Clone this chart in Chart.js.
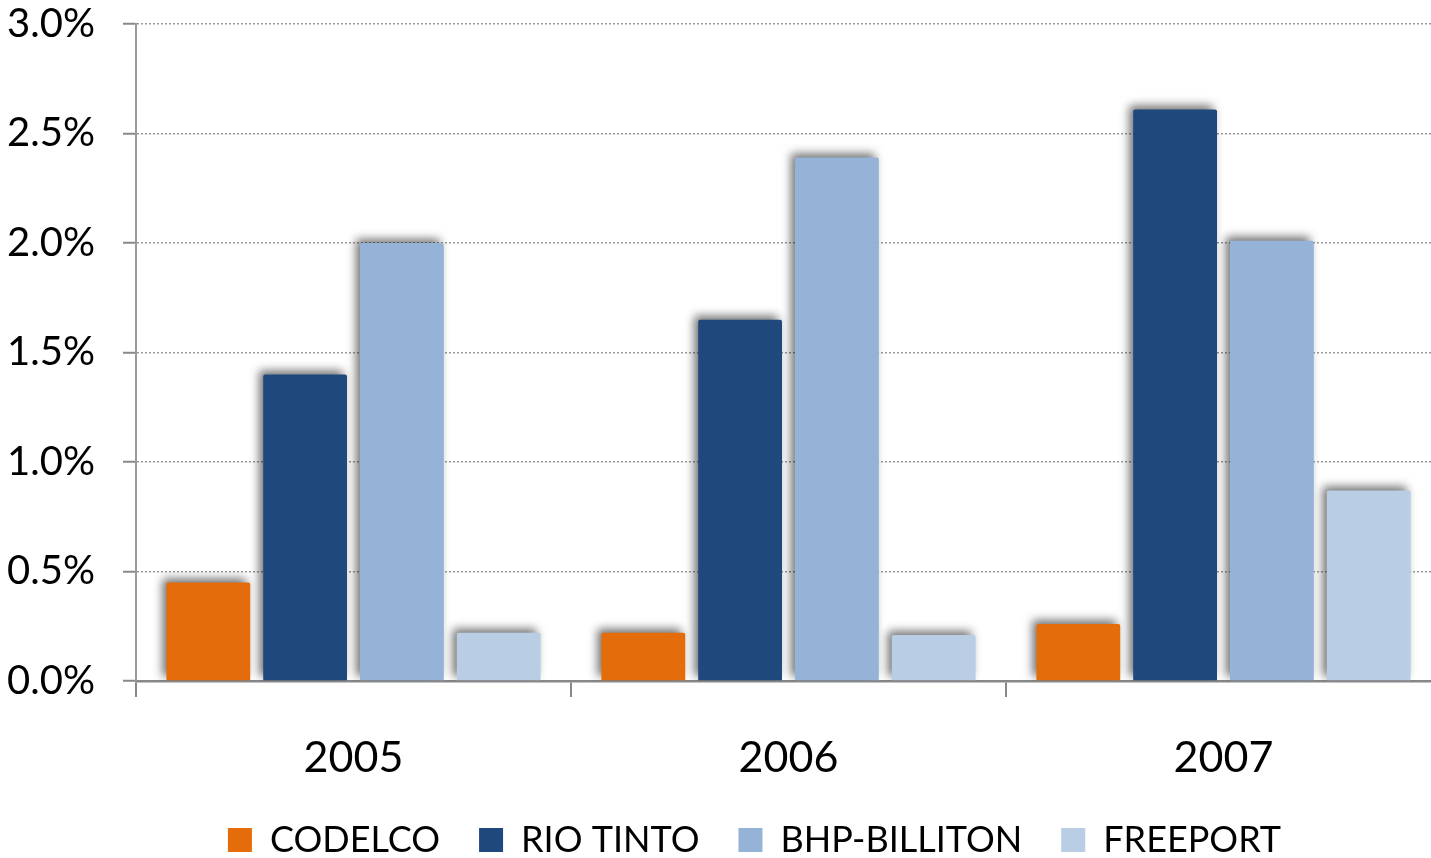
<!DOCTYPE html>
<html lang="en">
<head>
    <meta charset="UTF-8">
    <title>Chart</title>
    <script src="https://cdn.jsdelivr.net/npm/chart.js"></script>
    <style>
        html, body { margin: 0; padding: 0; background: #fff; overflow: hidden; }
        /* 오른쪽 끝이 살짝 잘린 원본처럼 캔버스를 조금 넓게 */
        #wrap { width: 1441px; height: 858px; }
    </style>
</head>
<body>
    <div id="wrap"><canvas id="myChart"></canvas></div>

    <script>
        // 데이터
        const years = ['2005', '2006', '2007'];
        const codelco = [0.45, 0.22, 0.26];
        const rioTinto = [1.40, 1.65, 2.61];
        const bhpBilliton = [2.00, 2.39, 2.01];
        const freeport = [0.22, 0.21, 0.87];
        const yTicks = [0, 0.5, 1.0, 1.5, 2.0, 2.5, 3.0];

        const FONT = 'Lato, "Open Sans", sans-serif';

        // 막대 그림자
        const shadowPlugin = {
            id: 'barShadow',
            beforeDatasetsDraw(chart) {
                const ctx = chart.ctx;
                ctx.save();
                ctx.shadowColor = 'rgba(0,0,0,0.55)';
                ctx.shadowBlur = 10;
                ctx.shadowOffsetX = -4;
                ctx.shadowOffsetY = -4;
            },
            afterDatasetsDraw(chart) {
                chart.ctx.restore();
            }
        };

        // 범례 위치 오른쪽으로 조금 이동
        const legendShift = {
            id: 'legendShift',
            afterLayout(chart) {
                if (chart.legend) {
                    chart.legend.left += 34;
                    chart.legend.right += 34;
                }
            }
        };

        function ds(label, data, color) {
            return {
                label: label,
                data: data,
                backgroundColor: color,
                borderWidth: 0,
                borderRadius: { topLeft: 2, topRight: 2 },
                borderSkipped: 'bottom',
                categoryPercentage: 0.89,
                barPercentage: 0.866
            };
        }

        new Chart(document.getElementById('myChart'), {
            type: 'bar',
            data: {
                labels: years,
                datasets: [
                    ds('CODELCO', codelco, '#E46C0A'),
                    ds('RIO TINTO', rioTinto, '#1F497D'),
                    ds('BHP-BILLITON', bhpBilliton, '#95B3D7'),
                    ds('FREEPORT', freeport, '#B9CDE5')
                ]
            },
            options: {
                responsive: true,
                maintainAspectRatio: false,
                animation: false,
                layout: { padding: { left: 0, right: 0, top: 0, bottom: -10 } },
                plugins: {
                    tooltip: { enabled: false },
                    legend: {
                        position: 'bottom',
                        labels: {
                            boxWidth: 24,
                            boxHeight: 24,
                            padding: 39,
                            color: '#000',
                            font: { family: FONT, size: 36 }
                        }
                    }
                },
                scales: {
                    x: {
                        afterFit(axis) { axis.height = 102; },
                        grid: {
                            display: true,
                            drawOnChartArea: false,
                            offset: true,
                            color: '#888',
                            lineWidth: 2,
                            tickLength: 16
                        },
                        border: { display: true, color: '#888', width: 2.5 },
                        ticks: {
                            color: '#000',
                            padding: 35,
                            font: { family: FONT, size: 43 }
                        }
                    },
                    y: {
                        min: 0,
                        max: 3.0,
                        afterBuildTicks(axis) {
                            axis.ticks = yTicks.map(v => ({ value: v }));
                        },
                        afterFit(axis) {
                            axis.width = 136;
                            axis.paddingTop = 24;
                        },
                        grid: {
                            color: '#999',
                            lineWidth: 1.5,
                            tickLength: 13,
                            tickColor: '#888',
                            tickWidth: 2,
                            tickBorderDash: []
                        },
                        // 점선 그리드
                        border: { display: true, color: '#999', width: 2, dash: [2, 2] },
                        ticks: {
                            color: '#000',
                            padding: 28,
                            font: { family: FONT, size: 40 },
                            callback: (v) => Number(v).toFixed(1) + '%'
                        }
                    }
                }
            },
            plugins: [shadowPlugin, legendShift]
        });
    </script>
</body>
</html>
